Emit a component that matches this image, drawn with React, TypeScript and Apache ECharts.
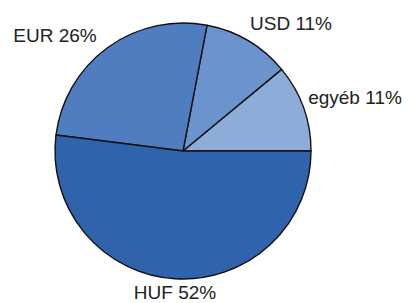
import React, { useEffect, useRef } from "react";
import * as echarts from "echarts";

const categories = ["egyéb", "USD", "EUR", "HUF"];
const values = [11, 11, 26, 52];
const colors = ["#8eacd8", "#6b94ce", "#4f7dbf", "#2f63ab"];
// label anchor points (layout only)
const labelAnchors: [number, number][] = [
  [355, 97],
  [291, 23],
  [55, 35],
  [175, 292],
];

export default function App() {
  const ref = useRef<HTMLDivElement>(null);
  useEffect(() => {
    document.body.style.margin = "0";
    const chart = echarts.init(ref.current!, null, { renderer: "svg" });
    chart.setOption({
      animation: false,
      backgroundColor: "#ffffff",
      series: [
        {
          type: "pie",
          center: [183, 151],
          radius: 128,
          startAngle: 0,
          clockwise: false,
          avoidLabelOverlap: false,
          data: categories.map((c, i) => ({
            name: c,
            value: values[i],
            itemStyle: { color: colors[i] },
          })),
          itemStyle: { borderColor: "#111", borderWidth: 1.4 },
          label: {
            show: true,
            position: "outside",
            formatter: (p: any) => `${p.name} ${p.value}%`,
            fontFamily: "Liberation Sans, Arial, sans-serif",
            fontSize: 19,
            color: "#222",
          },
          labelLine: { show: false },
          labelLayout: (p: any) => ({
            x: labelAnchors[p.dataIndex][0],
            y: labelAnchors[p.dataIndex][1],
            align: "center",
            verticalAlign: "middle",
          }),
          emphasis: { disabled: true },
        },
      ],
    });
    return () => chart.dispose();
  }, []);
  return (
    <div
      ref={ref}
      style={{ position: "fixed", left: 0, top: 0, width: 409, height: 303 }}
    />
  );
}
